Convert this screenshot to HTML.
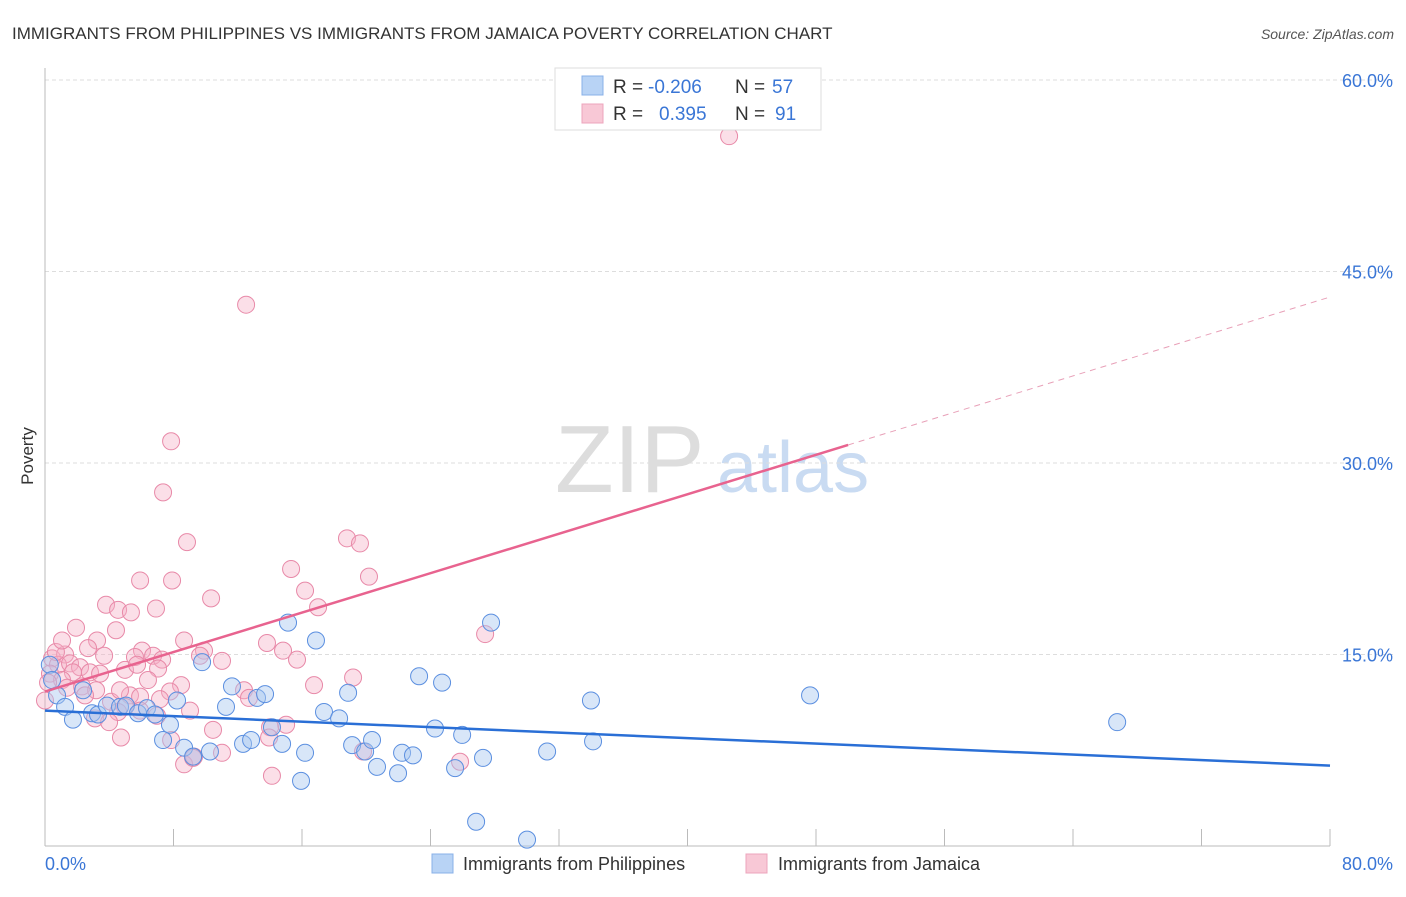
<!DOCTYPE html>
<html><head><meta charset="utf-8"><style>
body{margin:0;background:#fff;font-family:"Liberation Sans",sans-serif;}
svg text{font-family:"Liberation Sans",sans-serif;}
</style></head><body>
<svg id="chart" width="1406" height="892" viewBox="0 0 1406 892">
<text x="12" y="39" font-size="17" fill="#333">IMMIGRANTS FROM PHILIPPINES VS IMMIGRANTS FROM JAMAICA POVERTY CORRELATION CHART</text>
<text x="1394" y="39" font-size="14" fill="#555" font-style="italic" text-anchor="end">Source: ZipAtlas.com</text>
<text x="555" y="492" font-size="96" fill="#ddd" font-family="Liberation Serif, serif">ZIP</text>
<text x="717" y="492" font-size="72" fill="#c9dbf2">atlas</text>
<text transform="translate(33,456) rotate(-90)" font-size="17" fill="#333" text-anchor="middle">Poverty</text>
<g id="grid"></g><g id="axes"></g><g id="pts"></g><g id="lines"></g>
<g>
<rect x="555" y="68" width="266" height="62" fill="#fff" stroke="#ddd"/>
<rect x="582" y="76" width="21" height="19" fill="#b8d3f5" stroke="#88b0e8"/>
<rect x="582" y="104" width="21" height="19" fill="#f8c8d6" stroke="#eda5bc"/>
<text x="613" y="93" font-size="19" fill="#333">R =</text><text x="648" y="93" font-size="19" fill="#3a76d6">-0.206</text>
<text x="735" y="93" font-size="19" fill="#333">N =</text><text x="772" y="93" font-size="19" fill="#3a76d6">57</text>
<text x="613" y="120" font-size="19" fill="#333">R =</text><text x="659" y="120" font-size="19" fill="#3a76d6">0.395</text>
<text x="735" y="120" font-size="19" fill="#333">N =</text><text x="775" y="120" font-size="19" fill="#3a76d6">91</text>
</g>
<g>
<rect x="432" y="854" width="21" height="19" fill="#b8d3f5" stroke="#88b0e8"/>
<text x="463" y="870" font-size="18" fill="#333">Immigrants from Philippines</text>
<rect x="746" y="854" width="21" height="19" fill="#f8c8d6" stroke="#eda5bc"/>
<text x="778" y="870" font-size="18" fill="#333">Immigrants from Jamaica</text>
</g>
</svg>
<script>
const yTicks=[15,30,45,60];
const yTickLabels=["15.0%","30.0%","45.0%","60.0%"];
const xTickLabels=["0.0%","80.0%"];
const blueX=[0.75,1.25,1.74,2.37,2.93,3.30,3.86,4.67,5.04,5.79,6.35,6.85,7.35,7.78,8.22,8.66,9.22,9.78,10.27,11.27,11.64,12.33,12.83,13.20,13.70,14.13,14.76,15.13,15.94,16.19,16.87,17.37,18.31,18.87,19.12,19.93,20.36,20.67,21.98,22.23,22.91,23.29,24.28,24.72,25.53,25.97,26.84,27.27,27.77,30.01,31.26,33.99,34.12,47.63,66.75,0.3,0.44];
const blueY=[11.8,10.9,9.9,12.2,10.4,10.3,11.0,10.9,11.0,10.4,10.8,10.3,8.3,9.5,11.4,7.7,7.0,14.4,7.4,10.9,12.5,8.0,8.3,11.6,11.9,9.3,8.0,17.5,5.1,7.3,16.1,10.5,10.0,12.0,7.9,7.4,8.3,6.2,5.7,7.3,7.1,13.3,9.2,12.8,6.1,8.7,1.9,6.9,17.5,0.5,7.4,11.4,8.2,11.8,9.7,14.2,13.0];
const pinkX=[42.59,12.52,7.85,7.35,8.84,18.80,19.61,15.32,5.92,7.91,20.17,16.19,10.34,3.80,4.55,6.91,5.35,17.0,4.42,1.93,27.40,3.24,8.66,13.82,6.04,9.90,2.68,14.82,0.44,1.25,3.68,5.60,6.73,7.29,9.65,11.02,15.69,0.81,1.56,2.18,1.74,0.31,2.80,3.43,4.98,7.04,19.18,1.06,0.19,2.30,6.41,8.47,16.75,3.18,7.78,2.49,5.29,5.92,7.16,12.39,12.70,4.11,4.98,5.92,4.55,3.11,3.99,6.97,15.01,14.01,4.73,7.85,13.95,11.02,9.28,8.66,19.80,25.84,14.13,9.22,0.68,1.37,4.67,5.73,9.03,10.46,0,1.06];
const pinkY=[55.6,42.4,31.7,27.7,23.8,24.1,23.7,21.7,20.8,20.8,21.1,20.0,19.4,18.9,18.5,18.6,18.3,18.7,16.9,17.1,16.6,16.1,16.1,15.9,15.3,15.3,15.5,15.3,14.7,15.0,14.9,14.8,14.9,14.6,14.9,14.5,14.6,14.2,14.3,14.0,13.6,13.5,13.6,13.5,13.8,13.9,13.2,13.0,12.8,12.5,13.0,12.6,12.6,12.2,12.1,11.8,11.8,11.7,11.5,12.2,11.6,11.3,10.9,10.6,10.5,10.0,9.7,10.2,9.5,9.3,8.5,8.3,8.5,7.3,7.0,6.4,7.4,6.6,5.5,6.9,15.2,12.4,12.2,14.2,10.6,9.1,11.4,16.1];
const blueTrend=[10.6,6.3];
const pinkTrend=[12.1,43.0];
const pinkSolidEnd=50;
const NS="http://www.w3.org/2000/svg";
const sx=v=>45+v*(1285/80), sy=v=>846-v*(766/60);
function mk(tag,attrs,parent){const e=document.createElementNS(NS,tag);for(const k in attrs)e.setAttribute(k,attrs[k]);parent.appendChild(e);return e;}
const grid=document.getElementById('grid'),axes=document.getElementById('axes'),pts=document.getElementById('pts'),lines=document.getElementById('lines');
yTicks.forEach((t,i)=>{
 const l=mk('line',{x1:45,x2:1394,y1:sy(t),y2:sy(t),stroke:'#ddd','stroke-dasharray':'4,3'},grid);
 
 
 const tx=mk('text',{x:1393,y:sy(t)+7,'font-size':18,fill:'#3a76d6','text-anchor':'end'},grid);
 tx.textContent=yTickLabels[i];
 
 
});
const ya=mk('line',{x1:45,x2:45,y1:68,y2:846,stroke:'#bbb'},axes);


const xa=mk('line',{x1:45,x2:1330,y1:846,y2:846,stroke:'#bbb'},axes);


for(let v=8;v<=80;v+=8){
 const t=mk('line',{x1:sx(v),x2:sx(v),y1:829,y2:846,stroke:'#bbb'},axes);
 
 
}
const xl0=mk('text',{x:45,y:870,'font-size':18,fill:'#3a76d6'},axes);
xl0.textContent=xTickLabels[0];


const xl1=mk('text',{x:1393,y:870,'font-size':18,fill:'#3a76d6','text-anchor':'end'},axes);
xl1.textContent=xTickLabels[1];


pinkX.forEach((x,i)=>{
 const c=mk('circle',{cx:sx(x),cy:sy(pinkY[i]),r:8.5,fill:'#f5b0c6','fill-opacity':0.4,stroke:'#e889a8','stroke-width':1},pts);
 
 
});
blueX.forEach((x,i)=>{
 const c=mk('circle',{cx:sx(x),cy:sy(blueY[i]),r:8.5,fill:'#a8c8f0','fill-opacity':0.45,stroke:'#5b8fe0','stroke-width':1},pts);
 
 
});
const bl=mk('line',{x1:sx(0),y1:sy(blueTrend[0]),x2:sx(80),y2:sy(blueTrend[1]),stroke:'#2a6fd6','stroke-width':2.5},lines);


const pm=pinkTrend[0]+(pinkTrend[1]-pinkTrend[0])*pinkSolidEnd/80;
const pl=mk('line',{x1:sx(0),y1:sy(pinkTrend[0]),x2:sx(pinkSolidEnd),y2:sy(pm),stroke:'#e8638f','stroke-width':2.5},lines);


const pd=mk('line',{x1:sx(pinkSolidEnd),y1:sy(pm),x2:sx(80),y2:sy(pinkTrend[1]),stroke:'#e8a0b8','stroke-width':1,'stroke-dasharray':'6,5'},lines);


</script>
</body></html>
